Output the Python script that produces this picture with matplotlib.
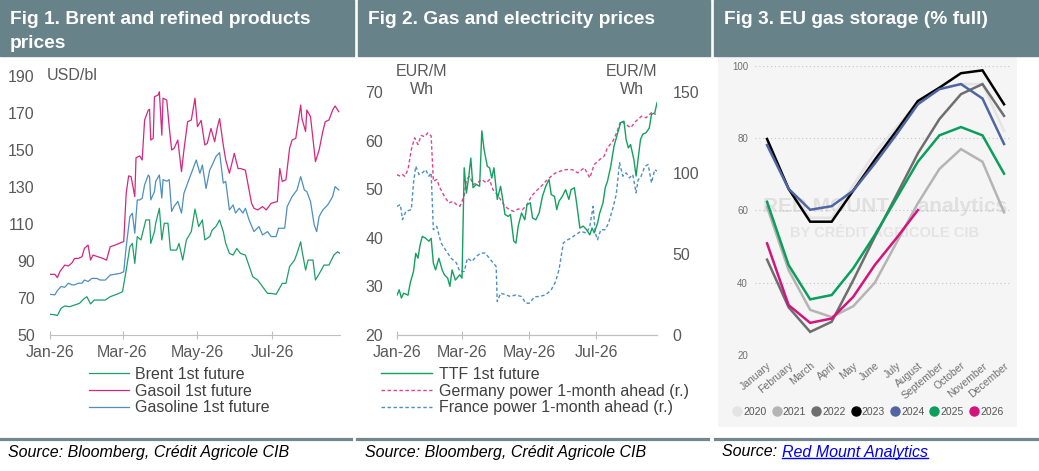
import matplotlib
matplotlib.use('Agg')
import matplotlib.pyplot as plt
import matplotlib.dates as mdates
from matplotlib.lines import Line2D
from matplotlib.patches import Rectangle
import pandas as pd

W, H = 1039, 471
start = pd.Timestamp('2026-01-01')
end_day = 236

# Fig 1: (days since 1 Jan 2026, USD/bl)
brent = [(0, 61.2), (4, 60.9), (6, 60.5), (9, 64.4), (12, 65.7), (16, 65.3), (20, 66.2), (24, 67.1),
         (28, 69.8), (30, 70.7), (33, 66.8), (36, 68.9), (41, 68.9), (45, 68.9), (49, 70.7), (55, 72.2),
         (59, 73.4), (62, 85.0), (65, 97.7), (67, 99.5), (69, 88.7), (71, 103.2), (74, 101.4), (76, 106.8),
         (78, 112.2), (81, 112.2), (82, 99.5), (85, 105.9), (86, 110.4), (89, 118.5), (91, 101.4), (93, 110.4),
         (96, 110.4), (98, 95.9), (103, 95.9), (105, 99.5), (108, 90.5), (111, 101.4), (115, 105.9), (118, 118.1),
         (121, 108.6), (124, 112.2), (126, 101.4), (130, 103.2), (132, 106.8), (135, 108.6), (138, 112.2),
         (141, 105.9), (143, 99.5), (146, 94.1), (149, 93.2), (152, 96.8), (155, 94.1), (159, 93.2), (165, 81.5),
         (169, 79.7), (173, 76.1), (177, 72.5), (180, 72.5), (184, 72.0), (186, 74.3), (189, 77.9), (192, 77.9),
         (195, 87.0), (199, 90.5), (201, 94.1), (204, 100.4), (205, 95.9), (208, 85.1), (210, 90.5), (214, 90.5),
         (216, 79.7), (219, 83.0), (223, 87.8), (227, 87.8), (231, 93.2), (234, 95.0), (236, 94.1)]
gasoil = [(0, 82.8), (4, 82.8), (6, 81.0), (8, 84.2), (12, 87.8), (15, 87.3), (18, 89.1), (20, 91.4),
          (23, 91.4), (26, 92.3), (28, 96.8), (31, 98.6), (33, 90.5), (35, 93.2), (39, 92.3), (43, 91.4),
          (46, 90.5), (49, 97.7), (53, 98.6), (58, 100.0), (60, 100.5), (62, 126.6), (64, 136.0), (66, 135.6),
          (69, 124.8), (70, 145.8), (73, 146.8), (75, 144.6), (77, 166.2), (80, 171.6), (81, 172.0), (82, 155.4),
          (84, 156.3), (85, 178.8), (88, 179.7), (89, 181.5), (91, 158.0), (92, 178.0), (95, 177.0), (97, 162.6),
          (99, 150.0), (101, 150.9), (104, 155.4), (107, 138.3), (109, 150.0), (112, 165.3), (115, 166.2),
          (118, 178.0), (120, 162.6), (123, 166.0), (126, 152.7), (128, 153.6), (131, 161.7), (134, 154.5),
          (136, 161.7), (138, 167.0), (141, 152.7), (143, 144.6), (146, 137.4), (150, 148.2), (153, 140.0),
          (155, 140.0), (159, 139.1), (164, 121.2), (166, 118.5), (169, 117.6), (173, 119.4), (176, 117.6),
          (180, 121.2), (185, 122.1), (187, 140.0), (189, 133.0), (192, 133.9), (195, 151.0), (197, 155.4),
          (200, 156.3), (204, 174.3), (205, 167.0), (208, 160.0), (209, 171.6), (212, 168.0), (215, 150.0),
          (216, 143.7), (219, 150.0), (222, 160.0), (224, 165.3), (227, 166.2), (230, 171.6), (232, 173.8),
          (235, 170.7)]
gasoline = [(0, 72.0), (4, 71.7), (6, 74.0), (9, 76.2), (12, 75.8), (15, 78.0), (18, 77.1), (20, 77.1),
            (23, 78.0), (26, 78.0), (28, 79.7), (31, 78.9), (34, 80.6), (38, 80.6), (41, 79.7), (45, 79.7),
            (49, 82.4), (57, 83.3), (60, 84.2), (62, 97.7), (65, 114.0), (67, 115.8), (69, 105.0), (71, 123.0),
            (73, 123.0), (75, 123.9), (77, 131.2), (80, 136.5), (81, 135.6), (82, 123.0), (85, 127.5), (86, 133.0),
            (89, 136.5), (91, 124.0), (92, 134.0), (95, 133.1), (97, 134.0), (99, 116.8), (101, 119.5),
            (104, 122.2), (107, 115.9), (109, 126.6), (112, 132.1), (116, 139.2), (119, 144.6), (122, 137.4),
            (124, 141.9), (127, 129.2), (130, 139.2), (132, 141.9), (135, 146.4), (138, 148.6), (141, 132.1),
            (143, 133.0), (146, 117.6), (149, 120.3), (151, 115.9), (154, 118.5), (157, 115.9), (159, 118.5),
            (162, 112.2), (166, 105.9), (170, 108.6), (173, 104.1), (177, 105.9), (180, 103.2), (184, 103.2),
            (186, 107.7), (191, 107.7), (193, 119.4), (197, 124.8), (201, 128.4), (204, 135.6), (207, 128.4),
            (209, 127.5), (212, 122.2), (215, 109.5), (217, 105.9), (219, 114.0), (222, 117.6), (226, 120.3),
            (230, 124.8), (232, 130.2), (235, 128.4)]

# Fig 2: TTF in EUR/MWh (left), power 1-month ahead in EUR/MWh (right)
ttf = [(0, 28.2), (2, 29.3), (4, 27.6), (6, 28.6), (10, 28.2), (12, 30.7), (15, 33.1), (17, 36.8), (19, 35.8),
       (21, 38.6), (23, 40.3), (26, 39.9), (29, 39.3), (31, 39.9), (33, 34.8), (35, 33.4), (38, 35.8), (41, 33.4),
       (43, 32.4), (46, 31.7), (48, 30.0), (50, 33.4), (53, 31.3), (57, 32.4), (59, 31.7), (61, 54.4), (63, 49.2),
       (65, 52.3), (67, 56.4), (69, 50.3), (72, 51.0), (75, 50.6), (77, 62.0), (79, 58.2), (82, 54.7), (84, 54.4),
       (86, 52.3), (88, 54.4), (91, 47.9), (94, 50.6), (96, 47.9), (98, 44.8), (101, 44.4), (103, 44.8),
       (106, 39.3), (108, 38.9), (110, 42.4), (113, 45.1), (116, 43.7), (118, 46.8), (121, 47.2), (123, 44.1),
       (126, 43.7), (129, 45.1), (132, 48.5), (135, 50.6), (138, 52.0), (140, 48.9), (143, 48.5), (145, 45.8),
       (147, 47.5), (150, 48.5), (153, 49.9), (156, 47.9), (158, 49.9), (161, 50.3), (163, 47.2), (166, 42.0),
       (169, 42.4), (172, 41.7), (175, 40.6), (177, 42.0), (179, 41.0), (182, 43.0), (184, 45.1), (187, 47.2),
       (189, 50.3), (191, 51.6), (194, 54.7), (197, 58.9), (200, 61.3), (203, 63.7), (206, 64.0), (208, 60.2),
       (210, 58.5), (212, 59.2), (215, 56.1), (217, 52.7), (219, 56.5), (221, 60.2), (223, 61.3), (226, 61.6),
       (229, 62.6), (231, 65.4), (234, 65.7), (236, 67.8)]
germany = [(0, 99.0), (3, 98.0), (5, 99.0), (7, 98.0), (10, 102.1), (13, 114.5), (16, 121.7), (19, 117.6),
           (22, 123.2), (25, 122.4), (28, 124.8), (31, 122.8), (33, 94.9), (36, 96.0), (39, 90.8), (43, 85.6),
           (47, 81.5), (51, 82.5), (54, 80.5), (57, 79.4), (61, 85.6), (63, 96.0), (66, 98.0), (69, 92.9),
           (73, 93.9), (77, 96.0), (81, 93.9), (84, 96.0), (87, 89.8), (91, 86.7), (94, 83.6), (98, 79.4),
           (102, 77.4), (106, 76.3), (110, 77.8), (114, 77.4), (118, 80.5), (122, 85.6), (126, 88.7), (131, 91.8),
           (135, 94.9), (140, 98.0), (144, 100.1), (148, 101.1), (153, 102.1), (159, 102.1), (164, 100.1),
           (170, 103.2), (175, 97.0), (179, 105.2), (184, 108.3), (188, 110.4), (191, 115.5), (196, 119.7),
           (200, 125.9), (203, 132.1), (208, 130.0), (212, 127.9), (217, 132.1), (222, 135.1), (226, 134.1),
           (231, 137.2), (235, 136.2)]
france = [(0, 79.4), (3, 80.5), (5, 71.2), (8, 76.3), (13, 77.4), (15, 93.9), (17, 104.2), (20, 99.0),
          (23, 100.1), (26, 102.1), (29, 98.0), (31, 100.1), (33, 65.0), (36, 67.1), (40, 56.8), (44, 52.6),
          (49, 47.5), (54, 44.4), (57, 39.2), (61, 39.2), (64, 47.5), (68, 45.4), (72, 48.5), (76, 50.6),
          (80, 50.6), (85, 46.4), (90, 42.3), (91, 20.6), (94, 25.8), (99, 24.8), (103, 23.7), (108, 24.8),
          (113, 23.7), (117, 19.6), (120, 19.6), (125, 23.7), (129, 23.7), (135, 24.8), (140, 27.9), (144, 33.0),
          (147, 40.2), (151, 56.8), (155, 58.8), (158, 59.8), (162, 61.9), (167, 64.0), (172, 62.9), (175, 67.1),
          (178, 79.4), (180, 62.9), (182, 58.8), (185, 65.0), (189, 65.0), (192, 69.1), (196, 78.4), (199, 86.7),
          (202, 106.3), (205, 98.0), (208, 100.1), (211, 97.0), (214, 99.0), (217, 87.7), (219, 96.0),
          (221, 97.0), (225, 104.2), (228, 105.2), (231, 93.9), (234, 102.1), (236, 101.1)]

# Fig 3: EU gas storage, % full
months = ['January', 'February', 'March', 'April', 'May', 'June', 'July', 'August',
          'September', 'October', 'November', 'December']
storage = {
    '2020': [79, 66, 58, 58, 67, 76, 83, 90, 93.5, 95, 95, 82],
    '2021': [61, 43.5, 32.5, 30.5, 33.5, 40, 51, 62, 71.5, 77, 73.5, 59.5],
    '2022': [46.4, 33.2, 26.4, 29.2, 40.7, 52.7, 64.2, 75.8, 85.3, 92.2, 95, 86.2],
    '2023': [79.8, 66, 56.9, 56.9, 65.5, 74, 82, 90.3, 94, 98, 98.8, 89.4],
    '2024': [78.1, 66, 60.2, 61.2, 65.5, 73, 81, 89.4, 93.6, 95, 91, 78.4],
    '2025': [62.4, 44.9, 35.4, 36.6, 44, 53.2, 63.3, 73.5, 80.8, 83.1, 80.8, 70.2],
    '2026': [50.9, 33.8, 28.9, 30.1, 36.1, 44.9, 52.3, 60.1],
}
year_colors = {'2020': '#E4E4E4', '2021': '#B4B4B4', '2022': '#6E6E6E', '2023': '#000000',
               '2024': '#4F66A3', '2025': '#0B9E5C', '2026': '#D4137D'}

hdr_color = '#678289'
tick_grey = '#595959'
txt_grey = '#404040'
sans = ['Liberation Sans', 'DejaVu Sans']
plt.rcParams['font.family'] = sans


def to_dates(pts):
    return [start + pd.Timedelta(days=d) for d, v in pts], [v for d, v in pts]


def px_axes(fig, left, top, right, bottom):
    return fig.add_axes([left / W, 1 - bottom / H, (right - left) / W, (bottom - top) / H])


def fx(x):
    return x / W


def fy(y):
    return 1 - y / H


fig = plt.figure(figsize=(W / 100, H / 100), dpi=100)

# headers, separators, sources
for x0, x1 in [(0, 354), (358, 710), (714, 1039)]:
    fig.add_artist(Rectangle((fx(x0), fy(56)), fx(x1 - x0), 56 / H, color=hdr_color,
                             transform=fig.transFigure, zorder=0))
for x0, x1 in [(0, 351), (357, 708), (715, 1039)]:
    fig.add_artist(Line2D([fx(x0), fx(x1)], [fy(439), fy(439)], lw=2.3, color='#72878E',
                          transform=fig.transFigure))

hkw = dict(color='white', fontsize=13.8, fontweight='bold', va='center', ha='left')
fig.text(fx(10), fy(20), 'Fig 1. Brent and refined products', **hkw)
fig.text(fx(10), fy(43), 'prices', **hkw)
fig.text(fx(368), fy(20), 'Fig 2. Gas and electricity prices', **hkw)
fig.text(fx(724), fy(20), 'Fig 3. EU gas storage (% full)', **hkw)

skw = dict(fontsize=11.5, style='italic', va='center', ha='left', color='black')
fig.text(fx(8), fy(452), 'Source: Bloomberg, Crédit Agricole CIB', **skw)
fig.text(fx(365), fy(452), 'Source: Bloomberg, Crédit Agricole CIB', **skw)
src3 = fig.text(fx(722), fy(452), 'Source: ', **skw)


def style_time_axis(ax):
    for s in ['top', 'right', 'left']:
        ax.spines[s].set_visible(False)
    ax.spines['bottom'].set_color('#BFBFBF')
    ax.set_xlim(start, start + pd.Timedelta(days=end_day))
    ax.xaxis.set_major_locator(mdates.MonthLocator(bymonth=[1, 3, 5, 7]))
    ax.xaxis.set_major_formatter(mdates.DateFormatter('%b-%y'))
    ax.tick_params(axis='x', direction='inout', length=6, color='#BFBFBF', pad=4,
                   labelsize=11.5, labelcolor=tick_grey)
    ax.tick_params(axis='y', length=0, labelsize=11.5, labelcolor=tick_grey)


# ---- Fig 1
ax1 = px_axes(fig, 50, 76, 340, 335)
c_brent, c_gasoil, c_gasoline = '#1E9E68', '#D4277F', '#4D8FBF'
for pts, c, lab in [(brent, c_brent, 'Brent 1st future'), (gasoil, c_gasoil, 'Gasoil 1st future'),
                    (gasoline, c_gasoline, 'Gasoline 1st future')]:
    d, v = to_dates(pts)
    ax1.plot(d, v, color=c, lw=0.9, label=lab)
style_time_axis(ax1)
ax1.set_ylim(50, 190)
ax1.set_yticks(range(50, 191, 20))
ax1.tick_params(axis='y', pad=11)
fig.text(fx(47), fy(76), 'USD/bl', fontsize=11.5, color=tick_grey, va='center', ha='left')
fig.legend(*ax1.get_legend_handles_labels(), loc='upper left', bbox_to_anchor=(fx(89), fy(367)),
           frameon=False, fontsize=11.5, handlelength=2.5, handletextpad=0.35, labelspacing=0.1,
           borderpad=0, borderaxespad=0, labelcolor=txt_grey)

# ---- Fig 2
ax2 = px_axes(fig, 397, 92, 657, 335)
ax2r = ax2.twinx()
d, v = to_dates(ttf)
ax2.plot(d, v, color='#14A060', lw=1.0, label='TTF 1st future')
d, v = to_dates(germany)
ax2r.plot(d, v, color='#E0428C', lw=1.0, dashes=(2.5, 1.8), label='Germany power 1-month ahead (r.)')
d, v = to_dates(france)
ax2r.plot(d, v, color='#4B8FC3', lw=1.0, dashes=(2.5, 1.8), label='France power 1-month ahead (r.)')
ax2.set_zorder(ax2r.get_zorder() + 1)
ax2.patch.set_visible(False)
style_time_axis(ax2)
style_time_axis(ax2r)
ax2.set_ylim(20, 70)
ax2.set_yticks(range(20, 71, 10))
ax2.tick_params(axis='y', pad=10)
ax2r.set_ylim(0, 150)
ax2r.set_yticks([0, 50, 100, 150])
ax2r.tick_params(axis='y', pad=11)
for xc in (422, 632):
    fig.text(fx(xc), fy(72), 'EUR/M', fontsize=11.5, color=tick_grey, va='center', ha='center')
    fig.text(fx(xc), fy(90), 'Wh', fontsize=11.5, color=tick_grey, va='center', ha='center')
h2 = ax2.get_legend_handles_labels()
h2r = ax2r.get_legend_handles_labels()
fig.legend(h2[0] + h2r[0], h2[1] + h2r[1], loc='upper left', bbox_to_anchor=(fx(381), fy(367)),
           frameon=False, fontsize=11.5, handlelength=3.2, handletextpad=0.45, labelspacing=0.1,
           borderpad=0, borderaxespad=0, labelcolor=txt_grey)

# ---- Fig 3
bg = px_axes(fig, 718, 57, 1017, 427)
bg.set_facecolor('#F5F5F5')
bg.set_xticks([])
bg.set_yticks([])
for s in bg.spines.values():
    s.set_visible(False)
bg.set_zorder(-1)

fig.text(fx(885), fy(207), 'RED MOUNT     analytics', fontsize=15, fontweight='bold', color='#E0E0E0',
         ha='center', va='center', zorder=1)
fig.text(fx(885), fy(233), 'BY CRÉDIT AGRICOLE CIB', fontsize=10.5, fontweight='bold', color='#E4E4E4',
         ha='center', va='center', zorder=1)

ax3 = px_axes(fig, 755, 66, 1012, 355)
ax3.patch.set_visible(False)
ax3.set_zorder(2)
for yr, vals in storage.items():
    ax3.plot(range(len(vals)), vals, color=year_colors[yr], lw=1.8, solid_joinstyle='miter')
ax3.set_xlim(-0.56, 11.37)
ax3.set_ylim(20, 100)
ax3.set_yticks([20, 40, 60, 80, 100])
ax3.set_xticks(range(12))
ax3.set_xticklabels(months, rotation=40, ha='right', rotation_mode='anchor')
ax3.yaxis.grid(True, ls=(0, (1, 2.5)), color='#C4C4C4', lw=0.8)
ax3.set_axisbelow(True)
for s in ax3.spines.values():
    s.set_visible(False)
ax3.tick_params(axis='both', length=0, labelsize=7, labelcolor='#707070')
ax3.tick_params(axis='x', pad=4, labelsize=7.5)
ax3.tick_params(axis='y', pad=5)

yr_handles = [Line2D([], [], ls='', marker='o', markersize=6.5, color=year_colors[yr]) for yr in storage]
fig.legend(yr_handles, list(storage.keys()), loc='center left', bbox_to_anchor=(fx(733), fy(412)),
           ncol=7, frameon=False, fontsize=7.5, handlelength=0.8, handletextpad=0.2, columnspacing=0.55,
           borderpad=0, borderaxespad=0, labelcolor='#555555')

# link in source of Fig 3
fig.canvas.draw()
r = fig.canvas.get_renderer()
bb = src3.get_window_extent(r)
link = fig.text(bb.x1 / W, fy(452), 'Red Mount Analytics', fontsize=11.5, style='italic', va='center',
                ha='left', color='#0000EE')
fig.canvas.draw()
lb = link.get_window_extent(r)
fig.add_artist(Line2D([lb.x0 / W, lb.x1 / W], [(lb.y0 + 1.5) / H] * 2, lw=1, color='#0000EE',
                      transform=fig.transFigure))

fig.savefig('out.png', dpi=100)
